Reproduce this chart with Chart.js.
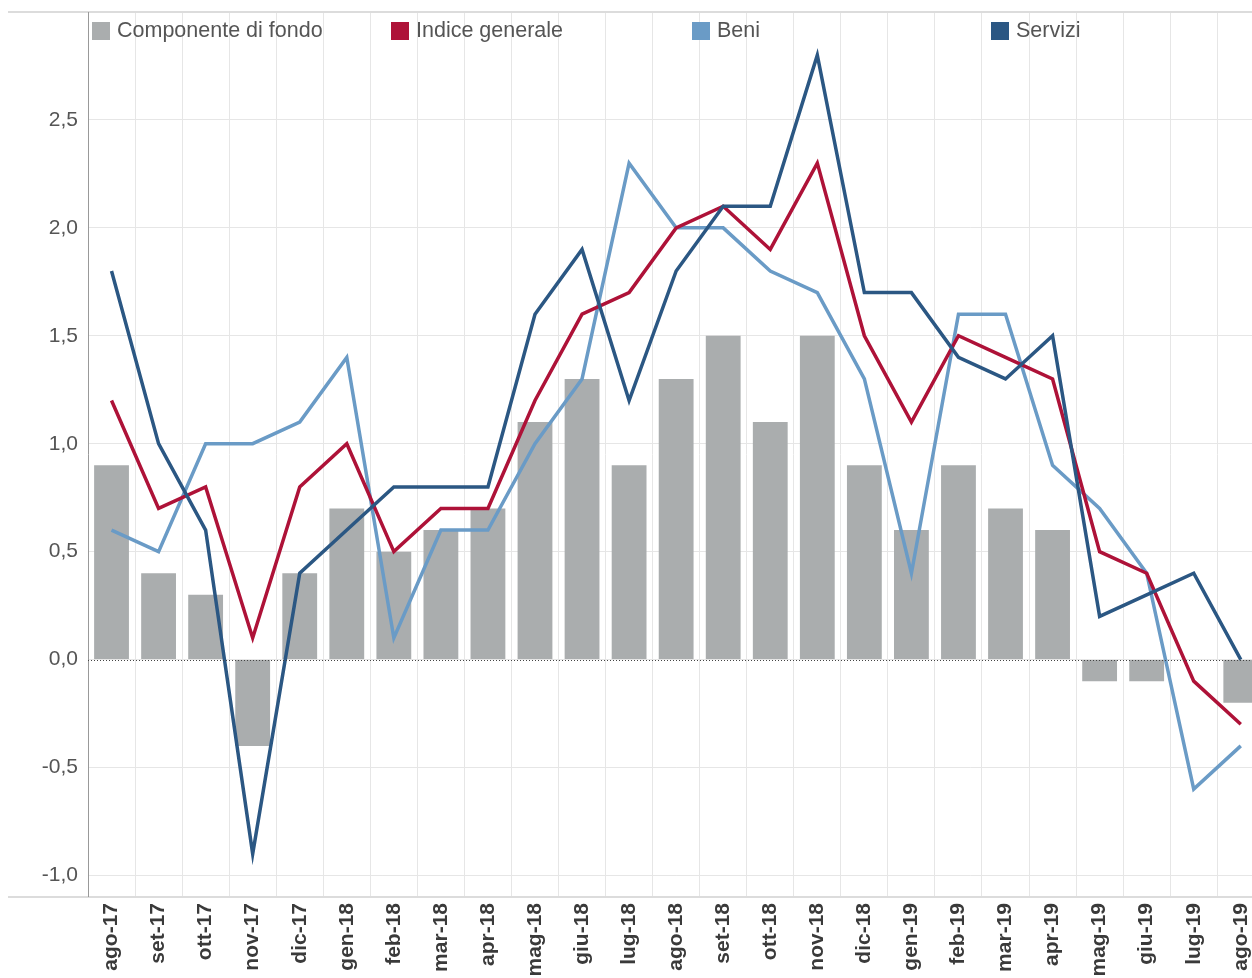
<!DOCTYPE html>
<html>
<head>
<meta charset="utf-8">
<script src="https://cdn.jsdelivr.net/npm/chart.js@4.4.1/dist/chart.umd.min.js"></script>
<style>
  html, body { margin: 0; padding: 0; background: #fff; overflow: hidden; }
  #wrap { position: relative; width: 1272px; height: 978px; }
  #legend { position: absolute; left: 0; top: 0; font-family: "Liberation Sans", Arial, sans-serif; font-size: 21.5px; color: #555; }
  .item { position: absolute; top: 18px; display: flex; align-items: center; white-space: nowrap; }
  .box { width: 18px; height: 18px; margin-right: 7px; }
</style>
</head>
<body>
<div id="wrap">
  <canvas id="grafico" width="1272" height="978"></canvas>
  <div id="legend"></div>
</div>
<script>
const mesi = ["ago-17","set-17","ott-17","nov-17","dic-17","gen-18","feb-18","mar-18","apr-18","mag-18","giu-18","lug-18",
  "ago-18","set-18","ott-18","nov-18","dic-18","gen-19","feb-19","mar-19","apr-19","mag-19","giu-19","lug-19","ago-19"];

const fondo   = [0.9,0.4,0.3,-0.4,0.4,0.7,0.5,0.6,0.7,1.1,1.3,0.9,1.3,1.5,1.1,1.5,0.9,0.6,0.9,0.7,0.6,-0.1,-0.1,0.0,-0.2];
const indice  = [1.2,0.7,0.8,0.1,0.8,1.0,0.5,0.7,0.7,1.2,1.6,1.7,2.0,2.1,1.9,2.3,1.5,1.1,1.5,1.4,1.3,0.5,0.4,-0.1,-0.3];
const beni    = [0.6,0.5,1.0,1.0,1.1,1.4,0.1,0.6,0.6,1.0,1.3,2.3,2.0,2.0,1.8,1.7,1.3,0.4,1.6,1.6,0.9,0.7,0.4,-0.6,-0.4];
const servizi = [1.8,1.0,0.6,-0.9,0.4,0.6,0.8,0.8,0.8,1.6,1.9,1.2,1.8,2.1,2.1,2.8,1.7,1.7,1.4,1.3,1.5,0.2,0.3,0.4,0.0];

const yTicks = [-1.0,-0.5,0,0.5,1.0,1.5,2.0,2.5,3.0];

const colori = { fondo: "#aaadae", indice: "#ae1238", beni: "#6a9bc6", servizi: "#2b5783" };

const legenda = [
  { nome: "Componente di fondo", colore: colori.fondo, x: 92 },
  { nome: "Indice generale", colore: colori.indice, x: 391 },
  { nome: "Beni", colore: colori.beni, x: 692 },
  { nome: "Servizi", colore: colori.servizi, x: 991 }
];

document.getElementById("legend").innerHTML = legenda.map(l => `
  <div class="item" style="left:${l.x}px"><span class="box" style="background:${l.colore}"></span>${l.nome}</div>
`).join("");

const bordi = {
  id: "bordi",
  beforeDatasetsDraw(c) {
    const ctx = c.ctx, a = c.chartArea;
    ctx.save();
    ctx.strokeStyle = "#dcdcdc";
    ctx.lineWidth = 2;
    ctx.beginPath();
    ctx.moveTo(8, a.top); ctx.lineTo(c.width, a.top);
    ctx.moveTo(8, a.bottom); ctx.lineTo(c.width, a.bottom);
    ctx.stroke();
    ctx.strokeStyle = "#999";
    ctx.lineWidth = 1;
    ctx.beginPath();
    ctx.moveTo(a.left + 0.5, a.top); ctx.lineTo(a.left + 0.5, a.bottom);
    ctx.stroke();
    ctx.restore();
  },
  afterDatasetsDraw(c) {
    const ctx = c.ctx, a = c.chartArea, y0 = Math.round(c.scales.y.getPixelForValue(0)) + 0.5;
    ctx.save();
    ctx.strokeStyle = "#444";
    ctx.lineWidth = 1;
    ctx.setLineDash([1, 2]);
    ctx.beginPath();
    ctx.moveTo(a.left, y0); ctx.lineTo(a.right, y0);
    ctx.stroke();
    ctx.restore();
  }
};

const linea = (label, data, colore, ordine) => ({
  type: "line", label, data, borderColor: colore, backgroundColor: colore,
  borderWidth: 3.5, pointRadius: 0, tension: 0, order: ordine
});

new Chart(document.getElementById("grafico"), {
  type: "bar",
  data: {
    labels: mesi,
    datasets: [
      { label: "Componente di fondo", data: fondo, backgroundColor: colori.fondo,
        barPercentage: 0.74, categoryPercentage: 1, order: 10 },
      linea("Indice generale", indice, colori.indice, 3),
      linea("Beni", beni, colori.beni, 4),
      linea("Servizi", servizi, colori.servizi, 2)
    ]
  },
  options: {
    responsive: false,
    animation: false,
    layout: { padding: { top: 12, right: 1, left: 0, bottom: 0 } },
    plugins: { legend: { display: false }, tooltip: { enabled: false } },
    scales: {
      x: {
        grid: { color: "#e6e6e6", drawTicks: false, offset: true },
        border: { display: false },
        ticks: {
          color: "#3a3a3a", minRotation: 90, maxRotation: 90, padding: 6, autoSkip: false,
          font: { family: "Liberation Sans, Arial, sans-serif", size: 21, weight: "bold" }
        },
        afterFit: s => { s.height = 81; }
      },
      y: {
        min: -1.1, max: 3.0,
        afterBuildTicks: s => { s.ticks = yTicks.map(v => ({ value: v })); },
        grid: { color: "#e6e6e6", drawTicks: false },
        border: { display: false },
        ticks: {
          color: "#555", padding: 10,
          font: { family: "Liberation Sans, Arial, sans-serif", size: 21 },
          callback: v => v >= 3 ? "" : v.toFixed(1).replace(".", ",")
        },
        afterFit: s => { s.width = 88; s.paddingTop = 0; s.paddingBottom = 0; }
      }
    }
  },
  plugins: [bordi]
});
</script>
</body>
</html>
